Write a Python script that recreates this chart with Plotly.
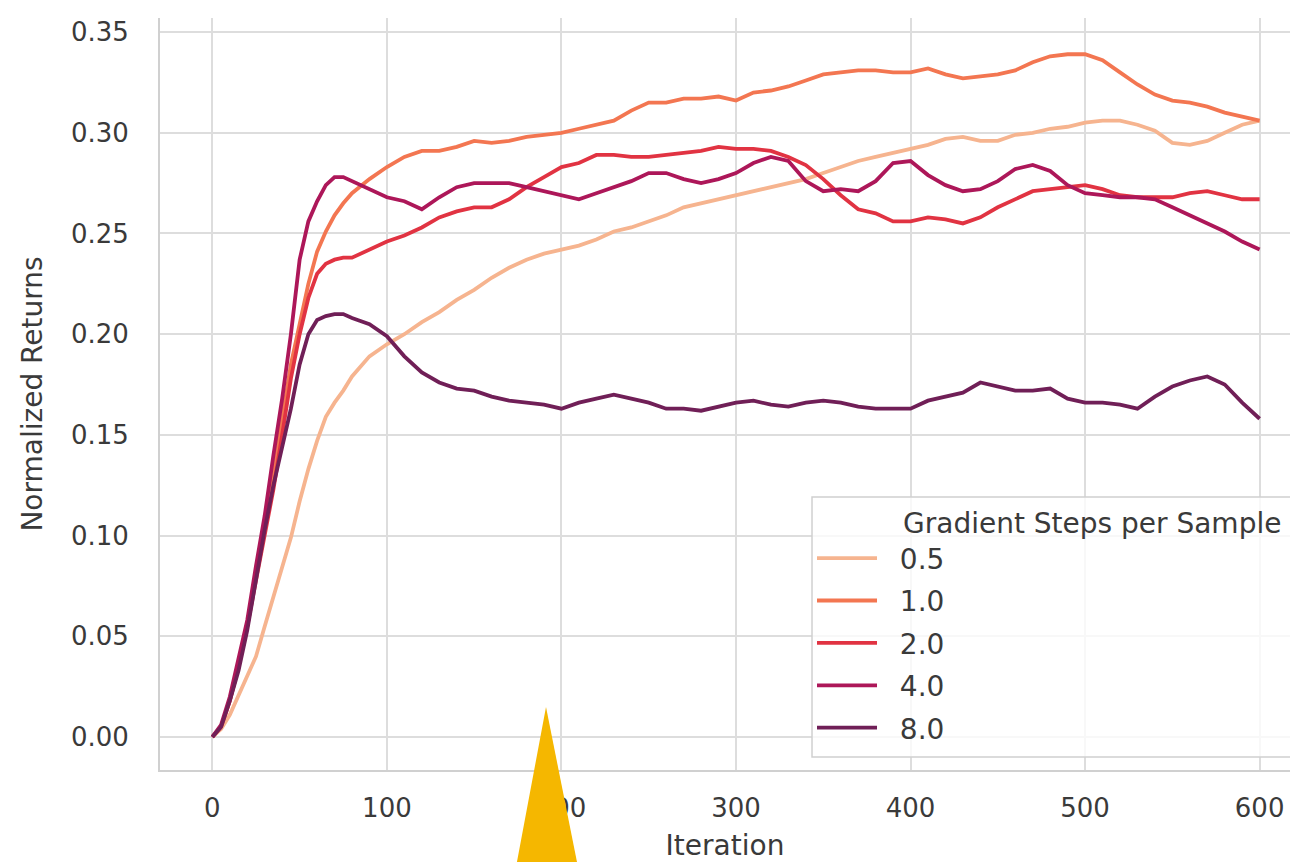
import plotly.graph_objects as go

# Training iterations at which the smoothed returns are recorded
iterations = [0, 5, 10, 15, 20, 25, 30, 35, 40, 45, 50, 55, 60, 65, 70, 75, 80] + list(range(90, 601, 10))

# Normalized returns per number of gradient steps per sample
returns_0_5 = [0, 0.004, 0.011, 0.021, 0.030, 0.040, 0.055, 0.070, 0.084, 0.099, 0.117, 0.133, 0.147, 0.159, 0.166, 0.172, 0.179,
               0.189, 0.195,
               0.200, 0.206, 0.211, 0.217, 0.222, 0.228, 0.233, 0.237, 0.240, 0.242,
               0.244, 0.247, 0.251, 0.253, 0.256, 0.259, 0.263, 0.265, 0.267, 0.269,
               0.271, 0.273, 0.275, 0.277, 0.280, 0.283, 0.286, 0.288, 0.290, 0.292,
               0.294, 0.297, 0.298, 0.296, 0.296, 0.299, 0.300, 0.302, 0.303, 0.305,
               0.306, 0.306, 0.304, 0.301, 0.295, 0.294, 0.296, 0.300, 0.304, 0.306]

returns_1_0 = [0, 0.005, 0.018, 0.035, 0.055, 0.080, 0.103, 0.130, 0.158, 0.185, 0.205, 0.225, 0.241, 0.251, 0.259, 0.265, 0.270,
               0.277, 0.283,
               0.288, 0.291, 0.291, 0.293, 0.296, 0.295, 0.296, 0.298, 0.299, 0.300,
               0.302, 0.304, 0.306, 0.311, 0.315, 0.315, 0.317, 0.317, 0.318, 0.316,
               0.320, 0.321, 0.323, 0.326, 0.329, 0.330, 0.331, 0.331, 0.330, 0.330,
               0.332, 0.329, 0.327, 0.328, 0.329, 0.331, 0.335, 0.338, 0.339, 0.339,
               0.336, 0.330, 0.324, 0.319, 0.316, 0.315, 0.313, 0.310, 0.308, 0.306]

returns_2_0 = [0, 0.005, 0.018, 0.035, 0.055, 0.078, 0.100, 0.123, 0.150, 0.178, 0.200, 0.218, 0.230, 0.235, 0.237, 0.238, 0.238,
               0.242, 0.246,
               0.249, 0.253, 0.258, 0.261, 0.263, 0.263, 0.267, 0.273, 0.278, 0.283,
               0.285, 0.289, 0.289, 0.288, 0.288, 0.289, 0.290, 0.291, 0.293, 0.292,
               0.292, 0.291, 0.288, 0.284, 0.277, 0.269, 0.262, 0.260, 0.256, 0.256,
               0.258, 0.257, 0.255, 0.258, 0.263, 0.267, 0.271, 0.272, 0.273, 0.274,
               0.272, 0.269, 0.268, 0.268, 0.268, 0.270, 0.271, 0.269, 0.267, 0.267]

returns_4_0 = [0, 0.006, 0.020, 0.038, 0.058, 0.085, 0.110, 0.140, 0.168, 0.200, 0.237, 0.256, 0.266, 0.274, 0.278, 0.278, 0.276,
               0.272, 0.268,
               0.266, 0.262, 0.268, 0.273, 0.275, 0.275, 0.275, 0.273, 0.271, 0.269,
               0.267, 0.270, 0.273, 0.276, 0.280, 0.280, 0.277, 0.275, 0.277, 0.280,
               0.285, 0.288, 0.286, 0.276, 0.271, 0.272, 0.271, 0.276, 0.285, 0.286,
               0.279, 0.274, 0.271, 0.272, 0.276, 0.282, 0.284, 0.281, 0.274, 0.270,
               0.269, 0.268, 0.268, 0.267, 0.263, 0.259, 0.255, 0.251, 0.246, 0.242]

returns_8_0 = [0, 0.005, 0.018, 0.033, 0.053, 0.078, 0.103, 0.125, 0.143, 0.163, 0.185, 0.200, 0.207, 0.209, 0.210, 0.210, 0.208,
               0.205, 0.199,
               0.189, 0.181, 0.176, 0.173, 0.172, 0.169, 0.167, 0.166, 0.165, 0.163,
               0.166, 0.168, 0.170, 0.168, 0.166, 0.163, 0.163, 0.162, 0.164, 0.166,
               0.167, 0.165, 0.164, 0.166, 0.167, 0.166, 0.164, 0.163, 0.163, 0.163,
               0.167, 0.169, 0.171, 0.176, 0.174, 0.172, 0.172, 0.173, 0.168, 0.166,
               0.166, 0.165, 0.163, 0.169, 0.174, 0.177, 0.179, 0.175, 0.166, 0.158]

series_labels = ["0.5", "1.0", "2.0", "4.0", "8.0"]
series_values = [returns_0_5, returns_1_0, returns_2_0, returns_4_0, returns_8_0]
series_colors = ["#f6b48f", "#f37651", "#e13342", "#ad1759", "#701f57"]

x_ticks = [0, 100, 200, 300, 400, 500, 600]
y_ticks = [0.00, 0.05, 0.10, 0.15, 0.20, 0.25, 0.30, 0.35]

FONT = "DejaVu Sans"
TEXT = "#3a3a3a"
GRID = "#dddddd"
PAD = "\u00a0"

fig = go.Figure()
for label, values, color in zip(series_labels, series_values, series_colors):
    fig.add_trace(go.Scatter(
        x=iterations, y=values, mode="lines", name=PAD * 2 + label, legendgroup=label,
        line=dict(color=color, width=3.8),
    ))

fig.update_layout(
    width=1290, height=862,
    margin=dict(l=160, r=0, t=18, b=92),
    paper_bgcolor="white", plot_bgcolor="white",
    font=dict(family=FONT, color=TEXT, size=26),
    showlegend=True,
    legend=dict(
        x=0.577, y=0.363, xanchor="left", yanchor="top",
        bgcolor="rgba(0,0,0,0)", borderwidth=0,
        itemwidth=60, tracegroupgap=3,
        font=dict(family=FONT, size=28, color=TEXT),
        title=dict(text=PAD * 10 + "Gradient Steps per Sample",
                   font=dict(family=FONT, size=28, color=TEXT)),
    ),
    xaxis=dict(
        range=[-30, 617.4], tickvals=x_ticks, showgrid=True, gridcolor=GRID, gridwidth=2,
        showline=True, linecolor="#d0d0d0", linewidth=2, zeroline=False, ticks="",
        tickfont=dict(size=26, color=TEXT), ticklabelstandoff=14,
        title=dict(text="Iteration", font=dict(size=28, color=TEXT), standoff=14),
    ),
    yaxis=dict(
        range=[-0.0164, 0.357], tickvals=y_ticks, tickformat=".2f", showgrid=True,
        gridcolor=GRID, gridwidth=2, showline=True, linecolor="#d0d0d0", linewidth=2,
        zeroline=False, ticks="", tickfont=dict(size=26, color=TEXT), ticklabelstandoff=24,
        title=dict(text="Normalized Returns", font=dict(size=28, color=TEXT), standoff=20),
    ),
)

# Legend frame (semi-transparent white box running past the right edge)
fig.add_shape(type="rect", xref="paper", yref="paper",
              x0=0.577, x1=1.06, y0=0.0173, y1=0.363,
              fillcolor="rgba(255,255,255,0.8)", line=dict(color="#d0d0d0", width=1.5),
              layer="above")

# Yellow pointer triangle at the bottom of the figure
fig.add_shape(type="path", xref="paper", yref="paper",
              path="M 0.3416,0.0838 L 0.3129,-0.1463 L 0.3722,-0.1463 Z",
              fillcolor="#f5b700", line=dict(width=0), layer="above")

fig.write_html("out.html")
